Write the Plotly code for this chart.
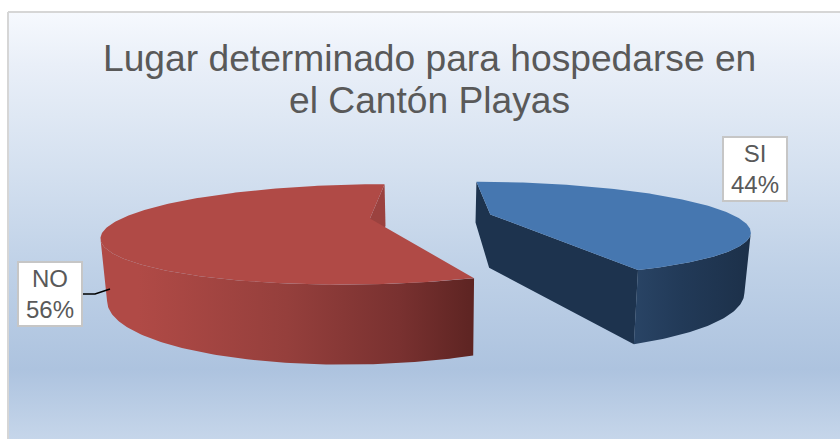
import numpy as np
import plotly.graph_objects as go

categories = ["SI", "NO"]
percent = [44, 56]
title_lines = ["Lugar determinado para hospedarse en", "el Cantón Playas"]

# 3D pie camera
VX, VY = 431.0, 216.5
F, G, P = 245.0, 44.0, 0.31
EXPLODE = 0.25
DEPTH, SHRINK = 54.0, 0.98


def project(theta_deg, ex, ez, bottom=False, apex=False):
    t = np.radians(np.asarray(theta_deg, dtype=float))
    r = 0.0 if apex else 1.0
    X = ex + r * np.sin(t)
    Z = ez + r * np.cos(t)
    s = 1.0 / (1.0 + P * Z)
    x = F * X * s
    y = -G * Z * s
    if bottom:
        return VX + x * SHRINK, VY + y + DEPTH * s
    return VX + x, VY + y


def poly(x, y, **kw):
    return go.Scatter(x=list(x), y=list(y), mode="lines", fill="toself",
                      line=dict(width=0), hoverinfo="skip", showlegend=False, **kw)


fig = go.Figure()

# chart-area background
fig.add_trace(go.Scatter(
    x=[8, 841, 841, 8, 8], y=[12, 12, 440, 440, 12], mode="lines", fill="toself",
    line=dict(color="#d6d6d6", width=2), hoverinfo="skip", showlegend=False,
    fillgradient=dict(type="vertical", colorscale=[
        [0.0, "#c6d6ea"], [0.165, "#adc3df"], [0.40, "#bfd1e7"],
        [0.64, "#d5e1f0"], [0.876, "#e9eff8"], [1.0, "#f6f9fe"]]),
))

total = sum(percent)
a_si = 360.0 * percent[0] / total
mid = np.radians(a_si / 2)
ex_si, ez_si = EXPLODE * np.sin(mid), EXPLODE * np.cos(mid)
ex_no, ez_no = -ex_si, -ez_si

# NO slice
th = np.linspace(a_si, 360, 240)
tx, ty = project(th, ex_no, ez_no)
bx, by = project(th, ex_no, ez_no, bottom=True)
ax, ay = project(0, ex_no, ez_no, apex=True)
abx, aby = project(0, ex_no, ez_no, bottom=True, apex=True)
bkx, bky = project(360, ex_no, ez_no)
bkbx, bkby = project(360, ex_no, ez_no, bottom=True)
i_t, i_b = int(np.argmin(tx)), int(np.argmin(bx))
fig.add_trace(poly(np.r_[tx[:i_t + 1], bx[:i_b + 1][::-1]], np.r_[ty[:i_t + 1], by[:i_b + 1][::-1]],
                   fillgradient=dict(type="horizontal", colorscale=[
                       [0.0, "#b04a46"], [0.10, "#b04a46"], [0.5, "#953f3c"],
                       [0.8, "#793130"], [1.0, "#5d2422"]])))
fig.add_trace(poly([bkx, ax, abx, bkbx], [bky, ay, aby, bkby], fillcolor="#9b423f"))
fig.add_trace(poly(np.r_[ax, tx], np.r_[ay, ty], fillcolor="#b04a46"))

# SI slice
th = np.linspace(0, a_si, 200)
tx, ty = project(th, ex_si, ez_si)
bx, by = project(th, ex_si, ez_si, bottom=True)
ax, ay = project(0, ex_si, ez_si, apex=True)
abx, aby = project(0, ex_si, ez_si, bottom=True, apex=True)
i_t, i_b = int(np.argmax(tx)), int(np.argmax(bx))
fig.add_trace(poly(np.r_[tx[i_t:], bx[i_b:][::-1]], np.r_[ty[i_t:], by[i_b:][::-1]],
                   fillgradient=dict(type="horizontal", colorscale=[
                       [0.0, "#294465"], [0.4, "#223a58"], [1.0, "#1c3049"]])))
fig.add_trace(poly([tx[0], ax, tx[-1], bx[-1], abx, bx[0]],
                   [ty[0], ay, ty[-1], by[-1], aby, by[0]], fillcolor="#1d334e"))
fig.add_trace(poly(np.r_[ax, tx], np.r_[ay, ty], fillcolor="#4677b0"))

# leader line for NO
fig.add_trace(go.Scatter(x=[82, 95, 110], y=[294, 294, 289], mode="lines",
                         line=dict(color="#000000", width=1.5),
                         hoverinfo="skip", showlegend=False))

label_pos = {"SI": (754.5, 169), "NO": (50, 293.5)}
for cat, val in zip(categories, percent):
    px, py = label_pos[cat]
    fig.add_annotation(x=px, y=py, text=f"{cat}<br>{val}%", showarrow=False,
                       xanchor="center", yanchor="middle",
                       font=dict(family="Liberation Sans", size=24, color="#595959"),
                       bgcolor="#ffffff", bordercolor="#c6c6c6", borderwidth=2,
                       width=60, height=60, align="center", valign="middle")

for line, ty_line in zip(title_lines, [58, 100]):
    fig.add_annotation(x=429, y=ty_line, text=line, showarrow=False,
                       xanchor="center", yanchor="middle",
                       font=dict(family="Liberation Sans", size=37.2, color="#595959"))

fig.update_layout(
    width=840, height=439, autosize=False,
    margin=dict(l=0, r=0, t=0, b=0),
    paper_bgcolor="#ffffff", plot_bgcolor="#ffffff", showlegend=False,
    xaxis=dict(range=[0, 840], visible=False, fixedrange=True),
    yaxis=dict(range=[439, 0], visible=False, fixedrange=True),
)
fig.write_html("out.html", config=dict(displayModeBar=False),
               post_script="document.body.style.margin='0';")
